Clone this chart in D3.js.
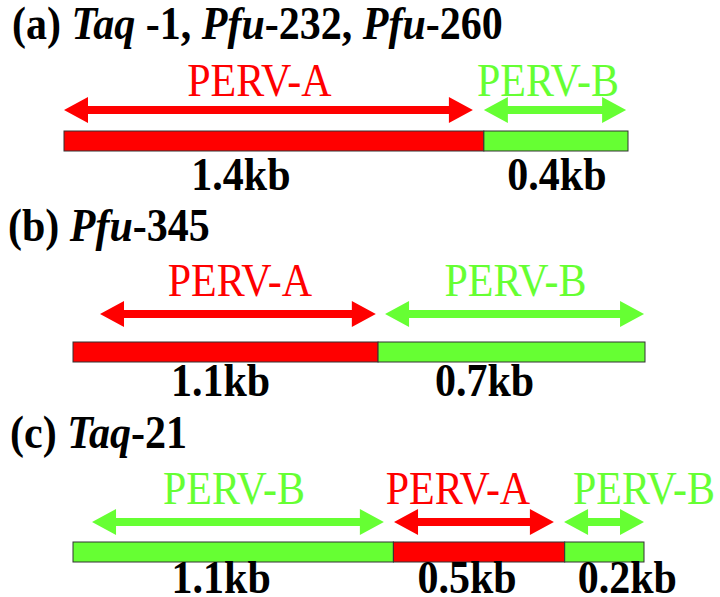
<!DOCTYPE html>
<html><head><meta charset="utf-8">
<script src="https://cdn.jsdelivr.net/npm/d3@7"></script>
<style>body{margin:0;background:#fff}svg{display:block}</style>
</head><body>
<svg id="chart" width="720" height="597"></svg>
<script>
// ---------- data ----------
const panelIds = ["a", "b", "c"];
const titleParts = [
  [["(a) ", false], ["Taq", true], [" -1, ", false], ["Pfu", true], ["-232, ", false], ["Pfu", true], ["-260", false]],
  [["(b) ", false], ["Pfu", true], ["-345", false]],
  [["(c) ", false], ["Taq", true], ["-21", false]]
];
const segTypesA = ["PERV-A", "PERV-B"];
const segTypesB = ["PERV-A", "PERV-B"];
const segTypesC = ["PERV-B", "PERV-A", "PERV-B"];
const segKbA = ["1.4kb", "0.4kb"];
const segKbB = ["1.1kb", "0.7kb"];
const segKbC = ["1.1kb", "0.5kb", "0.2kb"];
// drawn segment spans (kb-equivalent)
const segSpanA = [1.34, 0.46];
const segSpanB = [0.96, 0.84];
const segSpanC = [1.01, 0.54, 0.25];
// arrow coverage (start, end) along the construct, same units
const arrowA = [[0.0, 1.305], [1.34, 1.794]];
const arrowB = [[0.085, 0.953], [0.982, 1.797]];
const arrowC = [[0.060, 0.980], [1.012, 1.516], [1.548, 1.800]];

// ---------- layout ----------
const layout = [
  { x0: 64, x1: 628, titleX: 12, titleY: 39, labelY: 96, arrowY: 110, barY: 131, kbY: 190,
    labelDx: [-9, -7], kbDx: [-33, 1] },
  { x0: 73, x1: 645, titleX: 8, titleY: 241, labelY: 296, arrowY: 314, barY: 342, kbY: 396,
    labelDx: [2, 1], kbDx: [-5, -27] },
  { x0: 73, x1: 644, titleX: 10, titleY: 448, labelY: 504, arrowY: 522, barY: 542, kbY: 593,
    labelDx: [-4, -16, 40], kbDx: [-12, -12, 23] }
];
const barH = 20, headLen = 24, headHalf = 13, shaftHalf = 4;
const color = d3.scaleOrdinal().domain(["PERV-A", "PERV-B"]).range(["#ff0000", "#66ff33"]);
const FONT = "'Liberation Serif','Times New Roman',serif";
const FSIZE = 47, SX = 0.894; // tall, slightly condensed type as in the picture

const types = [segTypesA, segTypesB, segTypesC];
const kbs = [segKbA, segKbB, segKbC];
const spans = [segSpanA, segSpanB, segSpanC];
const arrows = [arrowA, arrowB, arrowC];

const svg = d3.select("#chart");
const place = (x, y) => `translate(${x},${y}) scale(${SX},1)`;

panelIds.forEach((id, p) => {
  const L = layout[p];
  const g = svg.append("g").attr("class", "panel-" + id);
  const total = d3.sum(spans[p]);
  const x = d3.scaleLinear().domain([0, total]).range([L.x0, L.x1]);
  const starts = d3.cumsum([0].concat(spans[p])).slice(0, spans[p].length);
  const segs = spans[p].map((s, i) => ({ start: starts[i], end: starts[i] + s, type: types[p][i], kb: kbs[p][i], i }));

  // title
  const t = g.append("text").attr("transform", place(L.titleX, L.titleY))
    .attr("xml:space", "preserve")
    .attr("font-family", FONT).attr("font-size", FSIZE).attr("font-weight", "bold").attr("fill", "#000");
  t.selectAll("tspan").data(titleParts[p]).join("tspan")
    .attr("font-style", d => d[1] ? "italic" : "normal")
    .style("white-space", "pre")
    .text(d => d[0]);

  // bars
  g.selectAll("rect.seg").data(segs).join("rect").attr("class", "seg")
    .attr("x", d => x(d.start)).attr("y", L.barY)
    .attr("width", d => x(d.end) - x(d.start)).attr("height", barH)
    .attr("fill", d => color(d.type)).attr("stroke", "#333").attr("stroke-width", 1);

  // double-headed arrows
  const arrowPath = (a, b, y) => {
    const shaftA = a + headLen, shaftB = b - headLen;
    return `M${a},${y} L${shaftA},${y - headHalf} L${shaftA},${y - shaftHalf} L${shaftB},${y - shaftHalf}` +
      ` L${shaftB},${y - headHalf} L${b},${y} L${shaftB},${y + headHalf} L${shaftB},${y + shaftHalf}` +
      ` L${shaftA},${y + shaftHalf} L${shaftA},${y + headHalf} Z`;
  };
  g.selectAll("path.arrow").data(segs).join("path").attr("class", "arrow")
    .attr("d", d => arrowPath(x(arrows[p][d.i][0]), x(arrows[p][d.i][1]), L.arrowY))
    .attr("fill", d => color(d.type));

  // PERV labels
  g.selectAll("text.perv").data(segs).join("text").attr("class", "perv")
    .attr("transform", d => place((x(arrows[p][d.i][0]) + x(arrows[p][d.i][1])) / 2 + L.labelDx[d.i], L.labelY))
    .attr("text-anchor", "middle")
    .attr("font-family", FONT).attr("font-size", FSIZE)
    .attr("fill", d => color(d.type)).text(d => d.type);

  // kb labels
  g.selectAll("text.kb").data(segs).join("text").attr("class", "kb")
    .attr("transform", d => place((x(d.start) + x(d.end)) / 2 + L.kbDx[d.i], L.kbY))
    .attr("text-anchor", "middle")
    .attr("font-family", FONT).attr("font-size", FSIZE).attr("font-weight", "bold")
    .attr("fill", "#000").text(d => d.kb);
});
</script>
</body></html>
